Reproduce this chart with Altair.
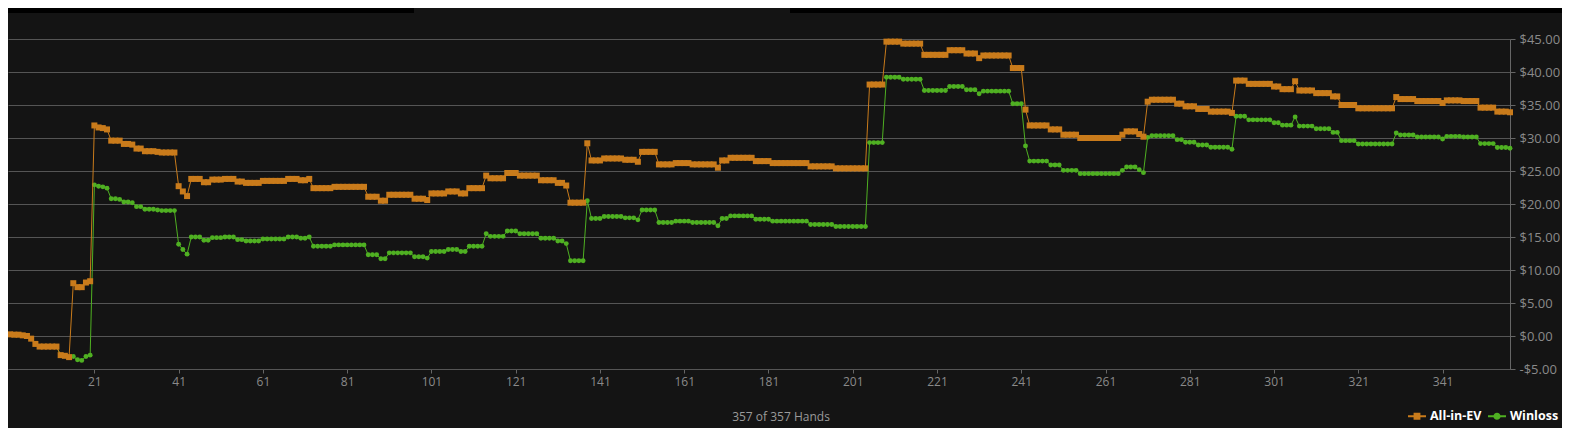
import altair as alt
import pandas as pd

# ---------------- data ----------------
series_names = ["All-in-EV", "Winloss"]
caption = "357 of 357 Hands"
x_ticks = [21, 41, 61, 81, 101, 121, 141, 161, 181, 201, 221, 241, 261, 281, 301, 321, 341]
y_ticks = [-5, 0, 5, 10, 15, 20, 25, 30, 35, 40, 45]

all_in_ev = [
    0.25, 0.2, 0.2, 0.1, 0.0, -0.4, -1.2, -1.6, -1.6, -1.6,
    -1.6, -1.6, -2.9, -3.0, -3.2, 8.0, 7.4, 7.4, 8.1, 8.3,
    31.9, 31.6, 31.5, 31.3, 29.6, 29.6, 29.6, 29.1, 29.1, 29.0,
    28.4, 28.4, 28.0, 28.0, 28.0, 27.9, 27.8, 27.8, 27.8, 27.8,
    22.7, 21.9, 21.2, 23.8, 23.8, 23.8, 23.3, 23.3, 23.7, 23.7,
    23.7, 23.8, 23.8, 23.8, 23.4, 23.4, 23.2, 23.2, 23.2, 23.2,
    23.5, 23.5, 23.5, 23.5, 23.5, 23.5, 23.8, 23.8, 23.8, 23.6,
    23.6, 23.8, 22.4, 22.4, 22.4, 22.4, 22.4, 22.6, 22.6, 22.6,
    22.6, 22.6, 22.6, 22.6, 22.6, 21.1, 21.1, 21.1, 20.5, 20.5,
    21.4, 21.4, 21.4, 21.4, 21.4, 21.4, 20.8, 20.8, 20.8, 20.6,
    21.6, 21.6, 21.6, 21.6, 21.9, 21.9, 21.9, 21.6, 21.6, 22.4,
    22.4, 22.4, 22.4, 24.3, 23.9, 23.9, 23.9, 23.9, 24.7, 24.7,
    24.7, 24.3, 24.3, 24.3, 24.3, 24.3, 23.6, 23.6, 23.6, 23.6,
    23.2, 23.2, 22.8, 20.2, 20.2, 20.2, 20.2, 29.2, 26.6, 26.6,
    26.6, 26.9, 26.9, 26.9, 26.9, 26.9, 26.7, 26.7, 26.7, 26.4,
    27.9, 27.9, 27.9, 27.9, 26.0, 26.0, 26.0, 26.0, 26.2, 26.2,
    26.2, 26.2, 26.0, 26.0, 26.0, 26.0, 26.0, 26.0, 25.5, 26.6,
    26.6, 27.0, 27.0, 27.0, 27.0, 27.0, 27.0, 26.5, 26.5, 26.5,
    26.5, 26.2, 26.2, 26.2, 26.2, 26.2, 26.2, 26.2, 26.2, 26.2,
    25.7, 25.7, 25.7, 25.7, 25.7, 25.7, 25.4, 25.4, 25.4, 25.4,
    25.4, 25.4, 25.4, 25.4, 38.1, 38.1, 38.1, 38.1, 44.6, 44.6,
    44.6, 44.6, 44.3, 44.3, 44.3, 44.3, 44.3, 42.6, 42.6, 42.6,
    42.6, 42.6, 42.6, 43.3, 43.3, 43.3, 43.3, 42.8, 42.8, 42.8,
    42.1, 42.5, 42.5, 42.5, 42.5, 42.5, 42.5, 42.5, 40.6, 40.6,
    40.6, 34.3, 31.9, 31.9, 31.9, 31.9, 31.9, 31.3, 31.3, 31.3,
    30.5, 30.5, 30.5, 30.5, 30.0, 30.0, 30.0, 30.0, 30.0, 30.0,
    30.0, 30.0, 30.0, 30.0, 30.5, 31.0, 31.0, 31.0, 30.6, 30.2,
    35.5, 35.8, 35.8, 35.8, 35.8, 35.8, 35.8, 35.2, 35.2, 34.8,
    34.8, 34.8, 34.4, 34.4, 34.4, 34.0, 34.0, 34.0, 34.0, 34.0,
    33.8, 38.7, 38.7, 38.7, 38.2, 38.2, 38.2, 38.2, 38.2, 38.2,
    37.8, 37.8, 37.4, 37.4, 37.4, 38.6, 37.2, 37.2, 37.2, 37.2,
    36.8, 36.8, 36.8, 36.8, 36.3, 36.3, 35.0, 35.0, 35.0, 35.0,
    34.5, 34.5, 34.5, 34.5, 34.5, 34.5, 34.5, 34.5, 34.5, 36.2,
    35.9, 35.9, 35.9, 35.9, 35.6, 35.6, 35.6, 35.6, 35.6, 35.6,
    35.3, 35.7, 35.7, 35.7, 35.7, 35.6, 35.6, 35.6, 35.6, 34.6,
    34.6, 34.6, 34.6, 34.0, 34.0, 34.0, 33.9,
]

winloss = [
    0.25, 0.2, 0.2, 0.1, 0.0, -0.4, -1.2, -1.6, -1.6, -1.6,
    -1.6, -1.6, -2.9, -3.0, -3.2, -3.1, -3.6, -3.7, -3.1, -2.9,
    22.9, 22.7, 22.6, 22.4, 20.8, 20.8, 20.7, 20.3, 20.3, 20.2,
    19.6, 19.6, 19.2, 19.2, 19.2, 19.1, 19.0, 19.0, 19.0, 19.0,
    13.9, 13.1, 12.4, 15.0, 15.0, 15.0, 14.5, 14.5, 14.9, 14.9,
    14.9, 15.0, 15.0, 15.0, 14.6, 14.6, 14.4, 14.4, 14.4, 14.4,
    14.7, 14.7, 14.7, 14.7, 14.7, 14.7, 15.0, 15.0, 15.0, 14.8,
    14.8, 15.0, 13.6, 13.6, 13.6, 13.6, 13.6, 13.8, 13.8, 13.8,
    13.8, 13.8, 13.8, 13.8, 13.8, 12.3, 12.3, 12.3, 11.7, 11.7,
    12.6, 12.6, 12.6, 12.6, 12.6, 12.6, 12.0, 12.0, 12.0, 11.8,
    12.8, 12.8, 12.8, 12.8, 13.1, 13.1, 13.1, 12.8, 12.8, 13.6,
    13.6, 13.6, 13.6, 15.5, 15.1, 15.1, 15.1, 15.1, 15.9, 15.9,
    15.9, 15.5, 15.5, 15.5, 15.5, 15.5, 14.8, 14.8, 14.8, 14.8,
    14.4, 14.4, 14.0, 11.4, 11.4, 11.4, 11.4, 20.5, 17.8, 17.8,
    17.8, 18.1, 18.1, 18.1, 18.1, 18.1, 17.9, 17.9, 17.9, 17.6,
    19.1, 19.1, 19.1, 19.1, 17.2, 17.2, 17.2, 17.2, 17.4, 17.4,
    17.4, 17.4, 17.2, 17.2, 17.2, 17.2, 17.2, 17.2, 16.7, 17.8,
    17.8, 18.2, 18.2, 18.2, 18.2, 18.2, 18.2, 17.7, 17.7, 17.7,
    17.7, 17.4, 17.4, 17.4, 17.4, 17.4, 17.4, 17.4, 17.4, 17.4,
    16.9, 16.9, 16.9, 16.9, 16.9, 16.9, 16.6, 16.6, 16.6, 16.6,
    16.6, 16.6, 16.6, 16.6, 29.3, 29.3, 29.3, 29.3, 39.2, 39.2,
    39.2, 39.2, 38.9, 38.9, 38.9, 38.9, 38.9, 37.2, 37.2, 37.2,
    37.2, 37.2, 37.2, 37.8, 37.8, 37.8, 37.8, 37.3, 37.3, 37.3,
    36.7, 37.1, 37.1, 37.1, 37.1, 37.1, 37.1, 37.1, 35.2, 35.2,
    35.2, 28.8, 26.5, 26.5, 26.5, 26.5, 26.5, 25.9, 25.9, 25.9,
    25.1, 25.1, 25.1, 25.1, 24.6, 24.6, 24.6, 24.6, 24.6, 24.6,
    24.6, 24.6, 24.6, 24.6, 25.1, 25.6, 25.6, 25.6, 25.2, 24.75,
    30.1, 30.35, 30.35, 30.35, 30.35, 30.35, 30.35, 29.75, 29.75, 29.35,
    29.35, 29.35, 28.95, 28.95, 28.95, 28.6, 28.6, 28.6, 28.6, 28.6,
    28.3, 33.3, 33.3, 33.3, 32.75, 32.75, 32.75, 32.75, 32.75, 32.75,
    32.3, 32.3, 31.95, 31.95, 31.95, 33.2, 31.8, 31.8, 31.8, 31.8,
    31.4, 31.4, 31.4, 31.4, 30.85, 30.85, 29.6, 29.6, 29.6, 29.6,
    29.1, 29.1, 29.1, 29.1, 29.1, 29.1, 29.1, 29.1, 29.1, 30.75,
    30.45, 30.45, 30.45, 30.45, 30.15, 30.15, 30.15, 30.15, 30.15, 30.15,
    29.85, 30.25, 30.25, 30.25, 30.25, 30.15, 30.15, 30.15, 30.15, 29.15,
    29.15, 29.15, 29.15, 28.55, 28.55, 28.55, 28.45,
]

hands = list(range(1, len(all_in_ev) + 1))

# ---------------- styling ----------------
BG = "#141414"
ORANGE = "#c97b1b"
GREEN = "#4fb022"
GRID = "#555555"
LABEL = "#8a8a8a"
FONT = "Open Sans"

df = pd.DataFrame({
    "hand": hands + hands,
    "value": all_in_ev + winloss,
    "series": [series_names[0]] * len(all_in_ev) + [series_names[1]] * len(winloss),
})

x_enc = alt.X(
    "hand:Q",
    title=None,
    scale=alt.Scale(domain=[0.5, 357], nice=False, zero=False),
    axis=alt.Axis(
        values=x_ticks, grid=False, format="d",
        domain=True, domainColor=GRID, tickColor="#666666", tickSize=4,
        labelColor=LABEL, labelFontSize=12, labelFont=FONT, labelPadding=3,
        labelFlush=False,
    ),
)
y_enc = alt.Y(
    "value:Q",
    title=None,
    scale=alt.Scale(domain=[-5, 45], nice=False, zero=False),
    axis=alt.Axis(
        orient="right", values=y_ticks, grid=True, gridColor=GRID, gridWidth=1,
        domain=True, domainColor="#666666", tickColor="#666666", tickSize=5,
        labelColor=LABEL, labelFontSize=13, labelFont=FONT, labelPadding=4,
        labelExpr="(datum.value < 0 ? '-' : '') + '$' + format(abs(datum.value), '.2f')",
    ),
)

base = alt.Chart(df)

wl_line = base.transform_filter(alt.datum.series == series_names[1]).mark_line(
    color=GREEN, strokeWidth=1
).encode(x=x_enc, y=y_enc)
wl_pts = base.transform_filter(alt.datum.series == series_names[1]).mark_point(
    shape="circle", filled=True, size=24, opacity=1, color=GREEN
).encode(x=x_enc, y=y_enc)
ev_line = base.transform_filter(alt.datum.series == series_names[0]).mark_line(
    color=ORANGE, strokeWidth=1
).encode(x=x_enc, y=y_enc)
ev_pts = base.transform_filter(alt.datum.series == series_names[0]).mark_point(
    shape="square", filled=True, size=36, opacity=1, color=ORANGE
).encode(x=x_enc, y=y_enc)

# legend-only layer (marks clipped away, legend symbols = line + marker)
sq_path = "M-1,-0.1L1,-0.1L1,0.1L-1,0.1Z M-0.38,-0.38L0.38,-0.38L0.38,0.38L-0.38,0.38Z"
circ_path = "M-1,-0.1L1,-0.1L1,0.1L-1,0.1Z M-0.4,0A0.4,0.4 0 1,1 0.4,0A0.4,0.4 0 1,1 -0.4,0Z"
leg = alt.Legend(
    title=None, orient="none", legendX=1400, legendY=368, direction="horizontal",
    symbolSize=324, symbolStrokeWidth=0, symbolOpacity=1,
    labelColor="#ffffff", labelFontSize=12.5, labelFontWeight="bold", labelFont=FONT,
    labelOffset=4, columnPadding=6,
)
legend_layer = alt.Chart(pd.DataFrame({"series": series_names})).mark_point(
    filled=True, opacity=1, clip=True
).encode(
    x=alt.value(-200), y=alt.value(-200),
    color=alt.Color("series:N", scale=alt.Scale(domain=series_names, range=[ORANGE, GREEN]), legend=leg),
    shape=alt.Shape("series:N", scale=alt.Scale(domain=series_names, range=[sq_path, circ_path]), legend=leg),
)

dummy = pd.DataFrame({"k": [0]})
bar_left = alt.Chart(dummy).mark_rect(color="#000000").encode(
    x=alt.value(0), x2=alt.value(406), y=alt.value(-31), y2=alt.value(-26)
)
bar_right = alt.Chart(dummy).mark_rect(color="#000000").encode(
    x=alt.value(782), x2=alt.value(1562), y=alt.value(-31), y2=alt.value(-26)
)
cap = alt.Chart(pd.DataFrame({"t": [caption]})).mark_text(
    font=FONT, fontSize=12, color="#9a9a9a", align="center", baseline="middle"
).encode(x=alt.value(773), y=alt.value(378), text="t:N")

chart = alt.layer(
    bar_left, bar_right, wl_line, wl_pts, ev_line, ev_pts, legend_layer, cap
).properties(
    width=1502, height=330,
    padding={"left": 0, "top": 31, "right": 52, "bottom": 59},
    autosize=alt.AutoSizeParams(type="none"),
).configure(
    background=BG, font=FONT,
).configure_view(stroke=None)

chart.save("out.html", embed_options={"renderer": "svg", "actions": False})
